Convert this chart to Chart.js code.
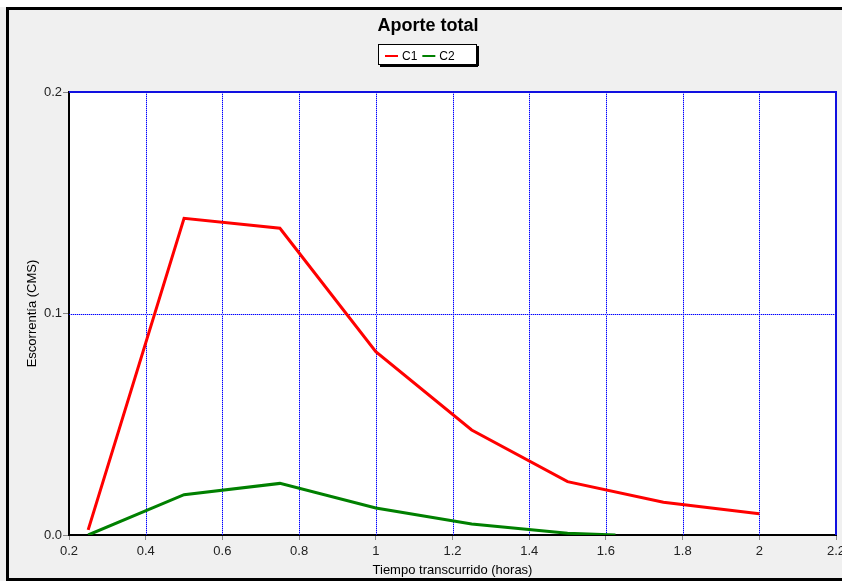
<!DOCTYPE html>
<html>
<head>
<meta charset="utf-8">
<title>Aporte total</title>
<script src="https://cdn.jsdelivr.net/npm/chart.js@4/dist/chart.umd.min.js"></script>
<style>
  html, body { margin: 0; padding: 0; background: #f0f0f0; }
  #wrap { width: 842px; height: 581px; }
</style>
</head>
<body>
<div id="wrap"><canvas id="c" width="842" height="581"></canvas></div>
<script>
// Hydrograph data: elapsed time (hours) and runoff (CMS) per catchment
const tiempoC1 = [0.25, 0.5, 0.75, 1.0, 1.25, 1.5, 1.75, 2.0];
const caudalC1 = [0.0023, 0.143, 0.1385, 0.0828, 0.0474, 0.0241, 0.0148, 0.0096];
const tiempoC2 = [0.25, 0.5, 0.75, 1.0, 1.25, 1.5, 1.625];
const caudalC2 = [0.0, 0.0182, 0.0233, 0.0122, 0.005, 0.0008, 0.0];

const seriesNames = ['C1', 'C2'];
const seriesColors = ['#ff0000', '#008000'];
const chartTitle = 'Aporte total';
const xTitle = 'Tiempo transcurrido (horas)';
const yTitle = 'Escorrentía (CMS)';
const xTicks = [0.2, 0.4, 0.6, 0.8, 1, 1.2, 1.4, 1.6, 1.8, 2, 2.2];
const yTicks = [0.0, 0.1, 0.2];

const FONT = '"Liberation Sans", Arial, sans-serif';

const toPoints = (xs, ys) => xs.map((x, i) => ({ x: x, y: ys[i] }));

// Window frame, plot background, dotted grid, title and boxed legend
const framePlugin = {
  id: 'frame',
  beforeDraw(chart) {
    const { ctx, chartArea: a, width, height } = chart;
    ctx.save();
    ctx.fillStyle = '#f0f0f0';
    ctx.fillRect(0, 0, width, height);
    ctx.fillStyle = '#ffffff';
    ctx.fillRect(0, 0, width, 7);
    ctx.fillRect(a.left, a.top, a.right - a.left, a.bottom - a.top);
    ctx.fillStyle = '#000000';
    ctx.fillRect(6, 7, width - 6, 3);
    ctx.fillRect(6, 7, 3, height - 7);
    ctx.fillRect(6, 578, width - 6, 3);
    ctx.restore();
  },
  beforeDatasetsDraw(chart) {
    const { ctx, chartArea: a, scales } = chart;
    const top = Math.round(a.top), bottom = Math.round(a.bottom);
    const left = Math.round(a.left), right = Math.round(a.right);
    ctx.save();
    // inner dotted grid lines
    xTicks.slice(1, -1).forEach(v => {
      const px = Math.round(scales.x.getPixelForValue(v));
      ctx.fillStyle = '#a8a8ff';
      ctx.fillRect(px, top, 1, bottom - top);
      ctx.fillStyle = '#0000ff';
      for (let y = top; y < bottom; y += 2) ctx.fillRect(px, y, 1, 1);
    });
    yTicks.slice(1, -1).forEach(v => {
      const py = Math.round(scales.y.getPixelForValue(v));
      ctx.fillStyle = '#a8a8ff';
      ctx.fillRect(left, py, right - left, 1);
      ctx.fillStyle = '#0000ff';
      for (let x = left; x < right; x += 2) ctx.fillRect(x, py, 1, 1);
    });
    // top and right plot edges
    ctx.fillStyle = '#1010e0';
    ctx.fillRect(left, top - 1, right - left + 1, 2);
    ctx.fillRect(right - 1, top - 1, 2, bottom - top + 1);
    ctx.restore();
  },
  afterDraw(chart) {
    const { ctx } = chart;
    ctx.save();
    // title
    ctx.fillStyle = '#000';
    ctx.font = 'bold 18px ' + FONT;
    ctx.textAlign = 'center';
    ctx.textBaseline = 'alphabetic';
    ctx.fillText(chartTitle, 428, 31);

    // legend box with drop shadow
    const bx = 378, by = 44, bw = 98, bh = 20;
    ctx.fillStyle = '#000';
    ctx.fillRect(bx + 2, by + bh + 1, bw, 2);
    ctx.fillRect(bx + bw + 1, by + 2, 2, bh);
    ctx.fillStyle = '#fff';
    ctx.fillRect(bx, by, bw, bh);
    ctx.strokeStyle = '#000';
    ctx.lineWidth = 1;
    ctx.strokeRect(bx + 0.5, by + 0.5, bw, bh);

    ctx.font = '12px ' + FONT;
    ctx.textAlign = 'left';
    ctx.textBaseline = 'alphabetic';
    let x = 385;
    chart.data.datasets.forEach(ds => {
      ctx.strokeStyle = ds.borderColor;
      ctx.lineWidth = 2;
      ctx.beginPath();
      ctx.moveTo(x, 56);
      ctx.lineTo(x + 13, 56);
      ctx.stroke();
      ctx.fillStyle = '#000';
      ctx.fillText(ds.label, x + 17, 60);
      x += 17 + ctx.measureText(ds.label).width + 5;
    });
    ctx.restore();
  }
};

const fmtX = v => String(parseFloat(Number(v).toFixed(1)));

new Chart(document.getElementById('c'), {
  type: 'line',
  data: {
    datasets: [
      { label: seriesNames[0], data: toPoints(tiempoC1, caudalC1), borderColor: seriesColors[0], backgroundColor: seriesColors[0], borderWidth: 3, pointRadius: 0, tension: 0, fill: false },
      { label: seriesNames[1], data: toPoints(tiempoC2, caudalC2), borderColor: seriesColors[1], backgroundColor: seriesColors[1], borderWidth: 3, pointRadius: 0, tension: 0, fill: false }
    ]
  },
  options: {
    responsive: false,
    animation: false,
    devicePixelRatio: 1,
    layout: { padding: { top: 92, right: 6, left: 0, bottom: 0 } },
    plugins: { legend: { display: false }, title: { display: false }, tooltip: { enabled: false } },
    scales: {
      x: {
        type: 'linear',
        min: xTicks[0],
        max: xTicks[xTicks.length - 1],
        afterBuildTicks(s) { s.ticks = xTicks.map(v => ({ value: v })); },
        ticks: { color: '#222', font: { family: FONT, size: 13 }, padding: 4, maxRotation: 0, autoSkip: false, callback: v => fmtX(v) },
        grid: { drawOnChartArea: false, color: '#888', tickColor: '#888', tickLength: 5, lineWidth: 1 },
        border: { display: true, color: '#000', width: 2 },
        title: { display: true, text: xTitle, color: '#000', font: { family: FONT, size: 13 }, padding: { top: 0, bottom: 3 } },
        afterFit(s) { s.height = 46; s.paddingLeft = 0; s.paddingRight = 0; }
      },
      y: {
        type: 'linear',
        min: yTicks[0],
        max: yTicks[yTicks.length - 1],
        afterBuildTicks(s) { s.ticks = yTicks.map(v => ({ value: v })); },
        ticks: { color: '#222', font: { family: FONT, size: 13 }, padding: 1, callback: v => Number(v).toFixed(1) },
        grid: { drawOnChartArea: false, color: '#888', tickColor: '#888', tickLength: 6, lineWidth: 1 },
        border: { display: true, color: '#000', width: 2 },
        title: { display: true, text: yTitle, color: '#000', font: { family: FONT, size: 13 }, padding: { top: 25, bottom: 0 } },
        afterFit(s) { s.width = 69; s.paddingTop = 0; s.paddingBottom = 0; }
      }
    }
  },
  plugins: [framePlugin]
});
</script>
</body>
</html>
